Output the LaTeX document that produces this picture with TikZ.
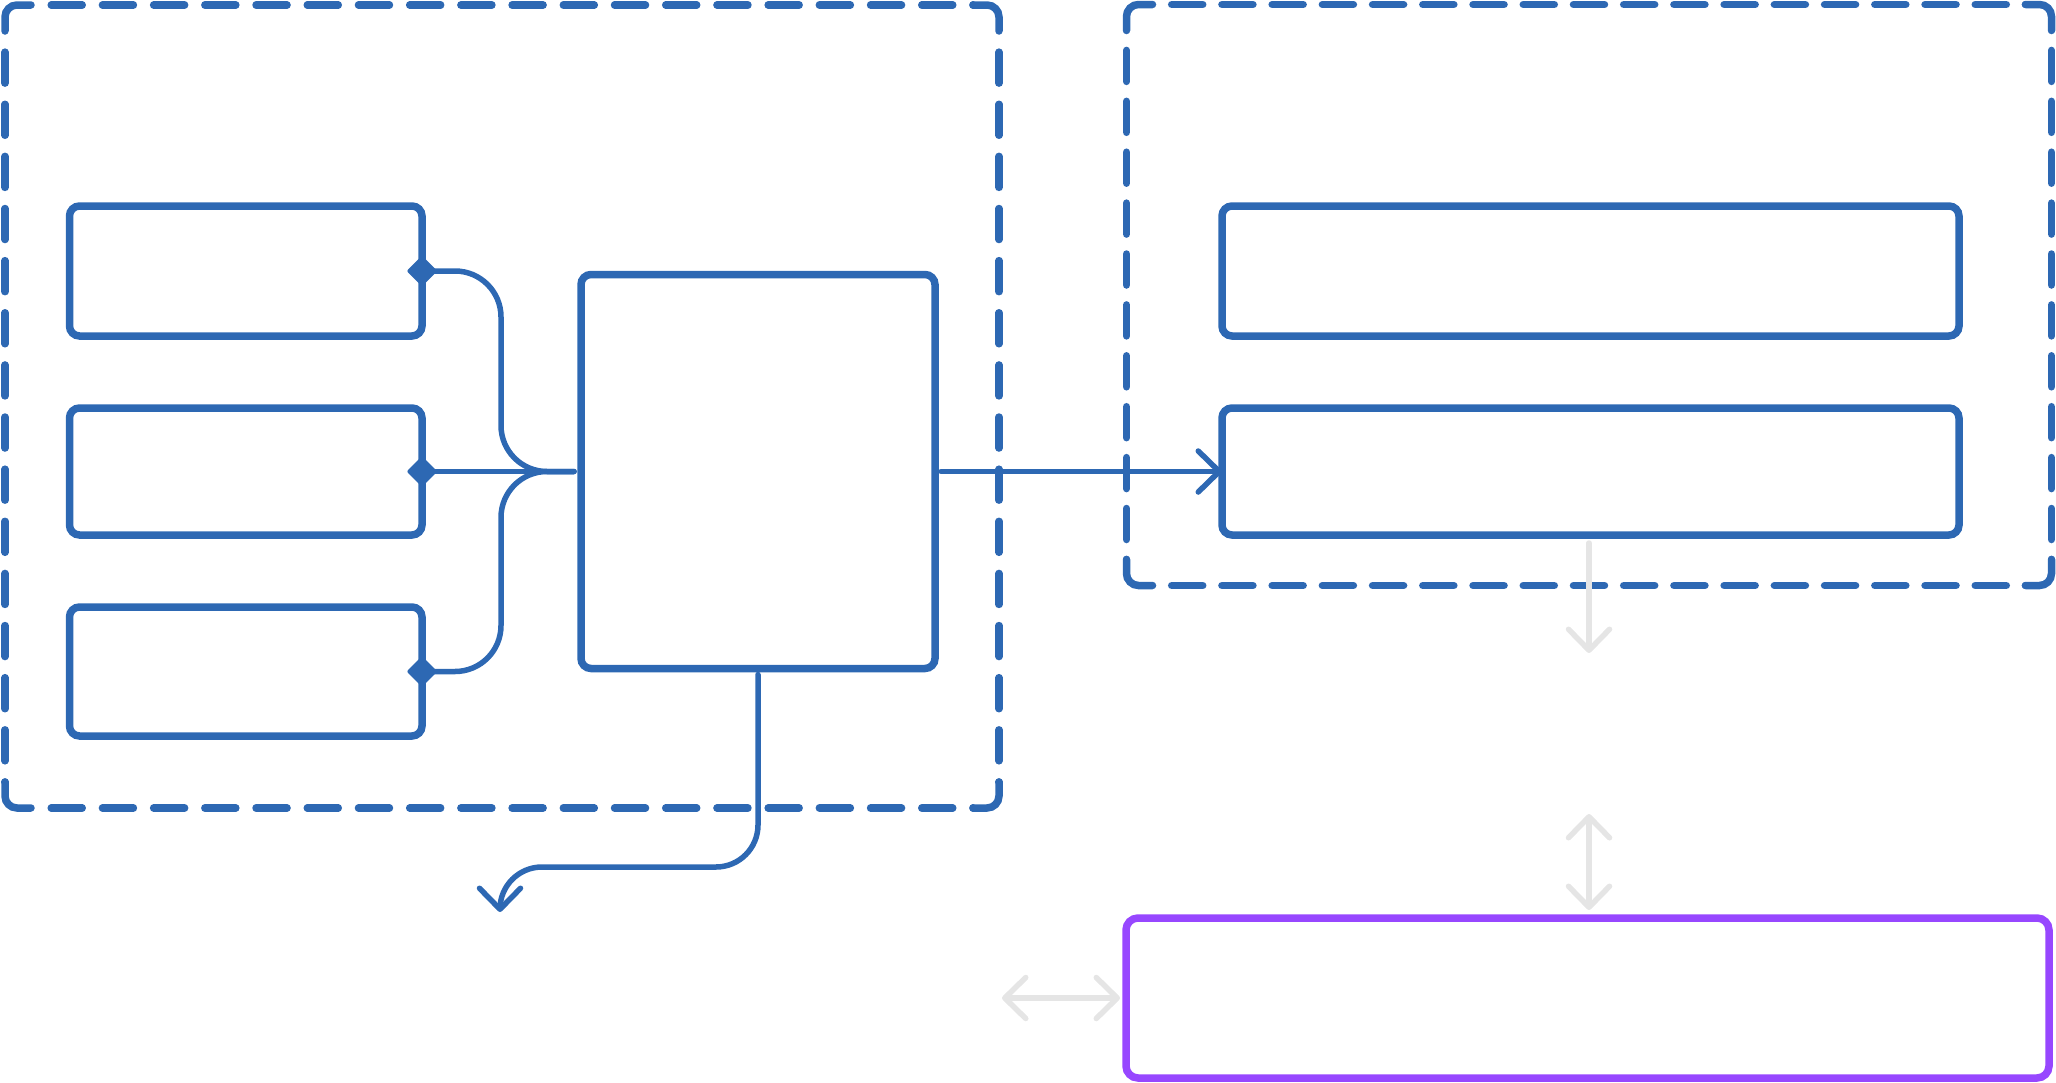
\documentclass[tikz,border=0pt]{standalone}
\usetikzlibrary{arrows.meta,shapes.geometric,calc}
\definecolor{mblue}{HTML}{2D68B3}
\definecolor{mpurple}{HTML}{9747FF}
\definecolor{mgray}{HTML}{E5E5E5}
\tikzset{
  boxst/.style={draw=mblue, line width=7.5pt, rounded corners=10pt, rectangle, inner sep=0pt, outer sep=0pt},
  grpline/.style={draw=mblue, line width=7.5pt, line cap=round},
  pbox/.style={draw=mpurple, line width=7.5pt, rounded corners=12pt, rectangle, inner sep=0pt, outer sep=0pt},
  dmark/.style={diamond, fill=mblue, inner sep=0pt, minimum width=31pt, minimum height=31pt, rounded corners=2pt},
  conn/.style={draw=mblue, line width=5.5pt, line cap=round},
  barb/.tip={Straight Barb[length=21pt,width=41pt,round]},
  garr/.style={draw=mgray, line width=5.5pt, line cap=round},
}
% dashed group frame: x1 y1 x2 y2 horizontal-gap vertical-gap
\newcommand\dgroup[6]{%
  \draw[grpline, rounded corners=12pt] (#1,#2+26) |- (#1+26,#2);
  \draw[grpline, rounded corners=12pt] (#3-26,#2) -| (#3,#2+26);
  \draw[grpline, rounded corners=12pt] (#3,#4-26) |- (#3-26,#4);
  \draw[grpline, rounded corners=12pt] (#1+26,#4) -| (#1,#4-26);
  \draw[grpline, dash pattern=on 31pt off #5pt, dash phase=31pt] (#1+26,#2) -- (#3-26,#2);
  \draw[grpline, dash pattern=on 31pt off #5pt, dash phase=31pt] (#1+26,#4) -- (#3-26,#4);
  \draw[grpline, dash pattern=on 31pt off #6pt, dash phase=31pt] (#1,#2+26) -- (#1,#4-26);
  \draw[grpline, dash pattern=on 31pt off #6pt, dash phase=31pt] (#3,#2+26) -- (#3,#4-26);
}
\begin{document}
\begin{tikzpicture}[x=1pt,y=-1pt]
\useasboundingbox (0,0) rectangle (2056,1082);
% groups
\dgroup{5}{5}{999}{808}{20.21}{21.13}
\dgroup{1126.5}{4.5}{2051.5}{585.5}{19.22}{19.9}
% left boxes
\node[boxst, minimum width=352.5pt, minimum height=130pt] (a) at (245.75,271) {};
\node[boxst, minimum width=352.5pt, minimum height=127pt] (b) at (245.75,471.5) {};
\node[boxst, minimum width=352.5pt, minimum height=129pt] (f) at (245.75,671.5) {};
% central box
\node[boxst, minimum width=354pt, minimum height=394pt] (c) at (758,471.5) {};
% right boxes
\node[boxst, minimum width=737pt, minimum height=130pt] (d) at (1590.5,271) {};
\node[boxst, minimum width=737pt, minimum height=127pt] (e) at (1590.5,471.5) {};
% purple box
\node[pbox, minimum width=923pt, minimum height=160pt] (p) at (1587.5,998) {};
% diamonds
\node[dmark] (da) at (a.east) {};
\node[dmark] (db) at (b.east) {};
\node[dmark] (df) at (f.east) {};
% connectors
\coordinate (cin) at ($(c.west)+(-7,0)$);
\coordinate (j) at (501,471.5);
\draw[conn, rounded corners=46pt] (da.center) -| (j) -- (cin);
\draw[conn, rounded corners=46pt] (df.center) -| (j) -- (cin);
\draw[conn] (db.center) -- (cin);
\draw[conn, -{barb}] ($(c.east)+(6,0)$) -- (e.west);
\coordinate (k) at (500,867);
\coordinate (tipb) at (500,912);
\draw[conn, rounded corners=42pt, -{barb}] ($(c.south)+(0,6)$) |- (k) -- (tipb);
% gray arrows
\coordinate (g1) at ($(e.south)+(-1.5,118)$);
\draw[garr, -{barb}] ($(e.south)+(-1.5,8)$) -- (g1);
\coordinate (g2) at (1589,814);
\draw[garr, {barb}-{barb}] (g2) -- ($(p.north)+(1.5,-8)$);
\coordinate (g3) at (1002,998);
\draw[garr, {barb}-{barb}] (g3) -- ($(p.west)+(-6,0)$);
\end{tikzpicture}
\end{document}
